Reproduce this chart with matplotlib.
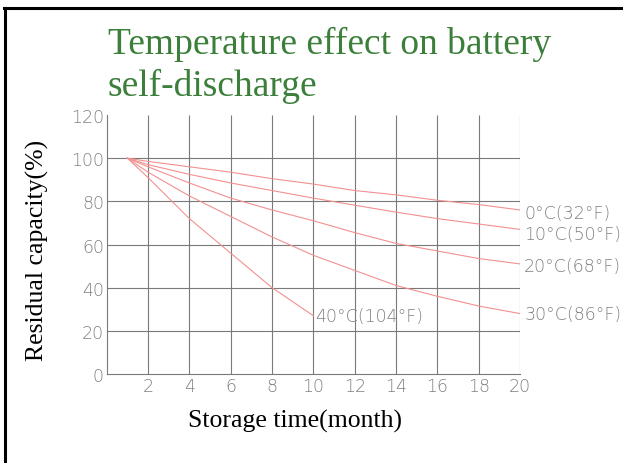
import matplotlib
matplotlib.use("Agg")
import matplotlib.pyplot as plt
from matplotlib.lines import Line2D

# data
months = [1, 2, 4, 6, 8, 10, 12, 14, 16, 18, 20]
cap_0c = [100, 98.5, 96, 93.5, 90.5, 88, 85, 83, 80.5, 78.5, 76]
cap_10c = [100, 97, 92.5, 88.5, 85, 81.5, 78.2, 75, 72, 69.5, 67]
cap_20c = [100, 96, 88.5, 81.5, 76, 71, 65.5, 60.5, 57, 53.5, 51]
cap_30c = [100, 93.5, 82.5, 73, 63.5, 55, 48, 41, 36, 31.5, 28]
months_40c = [1, 2, 4, 6, 8, 10]
cap_40c = [100, 91, 72, 56, 40, 27]

labels = ["0°C(32°F)", "10°C(50°F)", "20°C(68°F)", "30°C(86°F)", "40°C(104°F)"]
x_ticks = [2, 4, 6, 8, 10, 12, 14, 16, 18, 20]
y_ticks = [0, 20, 40, 60, 80, 100, 120]
title_lines = ["Temperature effect on battery", "self-discharge"]

fig = plt.figure(figsize=(6.23, 4.64), dpi=100)
ax = fig.add_axes([0.1713, 0.1918, 0.6634, 0.5582])

grid_c = "#7a7a7a"
ax.vlines(x_ticks, 0, 120, color=grid_c, lw=0.8)
ax.hlines([20, 40, 60, 80, 100], 0, 20, color=grid_c, lw=0.8)

red = "#f39090"
series = [(months, cap_0c), (months, cap_10c), (months, cap_20c), (months, cap_30c), (months_40c, cap_40c)]
for xs, ys in series:
    ax.plot(xs, ys, color=red, lw=0.8)

# curve labels
lab_c = "#808080"
lab_font = dict(color=lab_c, fontsize=12.5, family="DejaVu Sans", fontweight="light", va="center")
for (xs, ys), lab, dy in zip(series[:4], labels[:4], [-1.5, -2, -1, 0]):
    ax.text(xs[-1] + 0.2, ys[-1] + dy, lab, ha="left", **lab_font)
ax.text(months_40c[-1] + 0.1, cap_40c[-1], labels[4], ha="left", **lab_font)

ax.set_xlim(0, 20)
ax.set_ylim(0, 120)
ax.set_xticks(x_ticks)
ax.set_yticks(y_ticks)
ax.tick_params(length=0, colors=lab_c, labelsize=12.5, pad=2)
for t in ax.get_xticklabels() + ax.get_yticklabels():
    t.set_fontweight("light")
for s in ["top", "right"]:
    ax.spines[s].set_visible(False)
for s in ["left", "bottom"]:
    ax.spines[s].set_color(grid_c)
    ax.spines[s].set_linewidth(0.8)

fig.text(295 / 623, 1 - 421 / 464, "Storage time(month)", family="Liberation Serif",
         fontsize=18.5, color="black", ha="center", va="center")
fig.text(37 / 623, 1 - 250 / 464, "Residual capacity(%)", family="Liberation Serif",
         fontsize=18.5, color="black", ha="center", va="center", rotation=90)

# title, two lines placed on their own baselines
for line, base in zip(title_lines, [54.5, 96.5]):
    fig.text(108 / 623, 1 - base / 464, line, family="Liberation Serif", fontsize=27,
             color="#3b7f3b", ha="left", va="baseline")

# frame lines at top and left
fig.add_artist(Line2D([4 / 623, 1], [1 - 9 / 464] * 2, color="black", lw=2.2, transform=fig.transFigure))
fig.add_artist(Line2D([5 / 623] * 2, [0, 1 - 9 / 464], color="black", lw=2.2, transform=fig.transFigure))

fig.savefig("out.png", dpi=100)
